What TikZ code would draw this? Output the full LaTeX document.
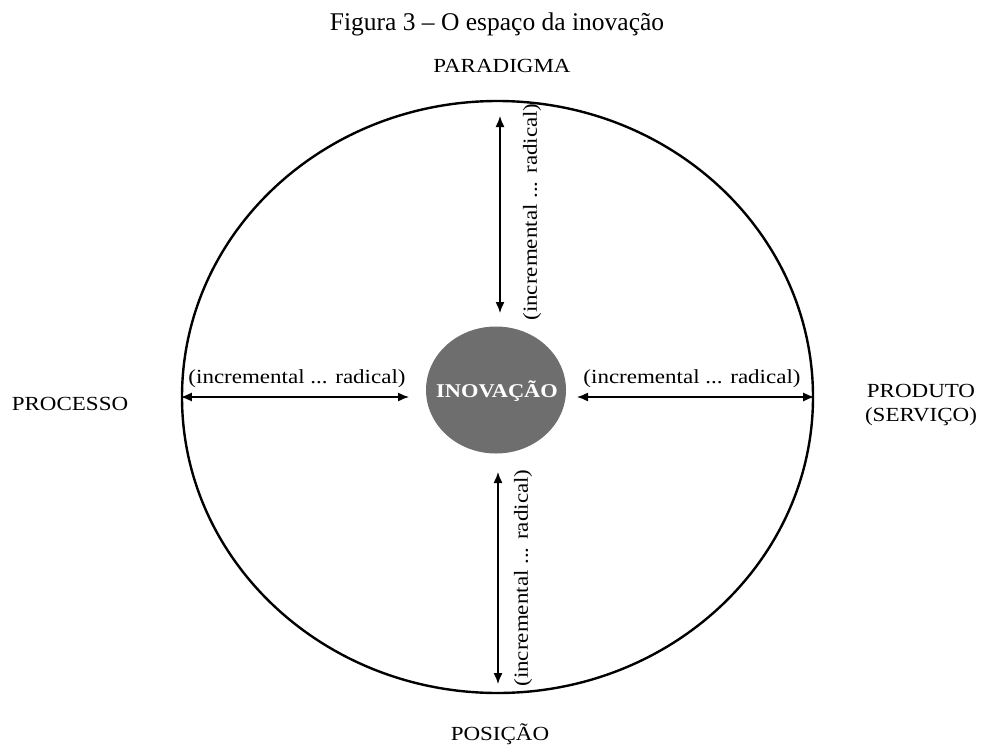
\documentclass[tikz,border=0pt]{standalone}
\usepackage{fontspec}
\setmainfont{Liberation Serif}
\newfontfamily\labfont[FakeStretch=1.15]{Liberation Serif}
\usetikzlibrary{shapes.geometric,arrows.meta}

\definecolor{coregray}{RGB}{110,110,110}

\tikzset{
  lab/.style={font=\labfont\fontsize{20}{24}\selectfont, inner sep=0pt, align=center},
  dimarrow/.style={line width=1.4pt, {Latex[length=11pt,width=9pt]}-{Latex[length=11pt,width=9pt]}},
}

\begin{document}
\begin{tikzpicture}[x=1pt,y=-1pt]
  \useasboundingbox (0,0) rectangle (982,747);

  % caption
  \node[font=\fontsize{25.5}{30}\selectfont, inner sep=0pt, anchor=base] (title) at (497,30)
    {Figura 3 – O espaço da inovação};

  % outer space of innovation
  \node[draw, line width=2.4pt, ellipse, minimum width=631pt, minimum height=592pt, inner sep=0pt]
    (space) at (497.5,397) {};

  % core
  \node[ellipse, fill=coregray, minimum width=140pt, minimum height=127pt, inner sep=0pt]
    (core) at (496,390) {};
  \node[font=\labfont\bfseries\fontsize{19.5}{22}\selectfont, text=white, inner sep=0pt, anchor=base]
    (coretxt) at (497,397) {INOVAÇÃO};

  % axis labels
  \node[lab, anchor=base] (paradigma) at (502,72) {PARADIGMA};
  \node[lab, anchor=base] (posicao) at (500,740) {POSIÇÃO};
  \node[lab, anchor=base] (processo) at (70,410) {PROCESSO};
  \node[lab, anchor=base] (produto) at (921,397) {PRODUTO};
  \node[lab, anchor=base] (servico) at (921,421) {(SERVIÇO)};

  % arrow end points
  \coordinate (leftin) at (409,397);
  \coordinate (rightin) at (577,397);
  \coordinate (topout) at (500,116);
  \coordinate (topin) at (500,313);
  \coordinate (botin) at (498,472);
  \coordinate (botout) at (498,684);

  % dimension arrows
  \draw[dimarrow] (space.west) -- (leftin);
  \draw[dimarrow] (rightin) -- (space.east);
  \draw[dimarrow] (topout) -- (topin);
  \draw[dimarrow] (botin) -- (botout);

  % scale labels
  \node[lab, anchor=base] (sleft) at (297,383) {(incremental ... radical)};
  \node[lab, anchor=base] (sright) at (692,383) {(incremental ... radical)};
  \node[lab, rotate=90] (stop) at (532,212) {(incremental ... radical)};
  \node[lab, rotate=90] (sbot) at (523,578) {(incremental ... radical)};
\end{tikzpicture}
\end{document}
